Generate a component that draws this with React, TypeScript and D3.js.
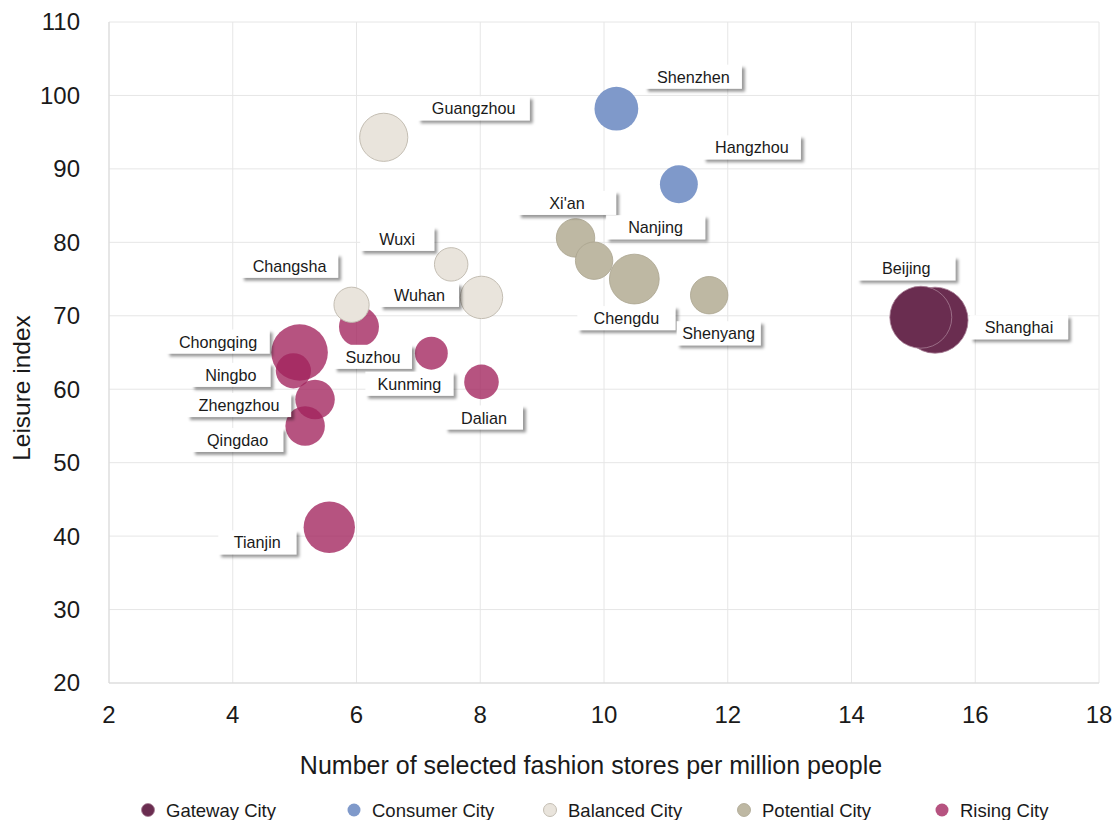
import React from 'react';
import * as d3 from 'd3';

// ---------- data ----------
const categoryNames = ['Gateway City', 'Consumer City', 'Balanced City', 'Potential City', 'Rising City'];

const cities = [
  'Shanghai', 'Beijing',
  'Shenzhen', 'Hangzhou',
  'Guangzhou', 'Wuxi', 'Wuhan', 'Changsha',
  'Xi\'an', 'Nanjing', 'Chengdu', 'Shenyang',
  'Chongqing', 'Ningbo', 'Zhengzhou', 'Qingdao', 'Suzhou', 'Kunming', 'Dalian', 'Tianjin',
];
const cityCategory = [
  'Gateway City', 'Gateway City',
  'Consumer City', 'Consumer City',
  'Balanced City', 'Balanced City', 'Balanced City', 'Balanced City',
  'Potential City', 'Potential City', 'Potential City', 'Potential City',
  'Rising City', 'Rising City', 'Rising City', 'Rising City', 'Rising City', 'Rising City', 'Rising City', 'Rising City',
];
const storesPerMillion = [
  15.35, 15.12,
  10.2, 11.21,
  6.44, 7.53, 8.02, 5.92,
  9.54, 9.84, 10.49, 11.7,
  5.08, 4.98, 5.33, 5.17, 6.04, 7.21, 8.02, 5.56,
];
const leisureIndex = [
  69.4, 69.8,
  98.2, 87.9,
  94.3, 77.0, 72.5, 71.5,
  80.6, 77.5, 75.0, 72.8,
  65.0, 62.5, 58.6, 55.0, 68.5, 64.9, 61.0, 41.2,
];
const bubbleSize = [
  109, 96,
  48, 36,
  58, 28, 45, 31,
  37, 35, 62, 35,
  80, 31, 39, 39, 40, 27, 30, 66,
];

const xTicks = [2, 4, 6, 8, 10, 12, 14, 16, 18];
const yTicks = [20, 30, 40, 50, 60, 70, 80, 90, 100, 110];

// ---------- styling / layout ----------
const W = 1118;
const H = 820;
const M = { left: 109, right: 1099, top: 22, bottom: 683 };

const catStyle: Record<string, { fill: string; stroke: string; opacity: number; strokeWidth: number }> = {
  'Gateway City': { fill: '#6a2d50', stroke: '#a77d94', opacity: 1, strokeWidth: 0.8 },
  'Consumer City': { fill: '#7f99ca', stroke: 'none', opacity: 1, strokeWidth: 0 },
  'Balanced City': { fill: '#e9e4dc', stroke: '#c4beb3', opacity: 1, strokeWidth: 1 },
  'Potential City': { fill: '#beb8a3', stroke: '#aaa38e', opacity: 1, strokeWidth: 0.8 },
  'Rising City': { fill: '#a1225c', stroke: 'none', opacity: 0.78, strokeWidth: 0 },
};
const drawOrder = ['Rising City', 'Potential City', 'Balanced City', 'Consumer City', 'Gateway City'];

// label box: offset of box centre from bubble centre (px) and box width
const labelLayout: Record<string, { dx: number; dy: number; w: number }> = {
  Beijing: { dx: -14.5, dy: -49, w: 98 },
  Shanghai: { dx: 84, dy: 7, w: 98 },
  Shenzhen: { dx: 77, dy: -32, w: 97 },
  Hangzhou: { dx: 73, dy: -37, w: 98 },
  Guangzhou: { dx: 90, dy: -29, w: 112 },
  "Xi'an": { dx: -8.5, dy: -35, w: 98 },
  Nanjing: { dx: 61.5, dy: -33.5, w: 99 },
  Chengdu: { dx: -8, dy: 39, w: 98 },
  Shenyang: { dx: 9.5, dy: 38, w: 84 },
  Wuxi: { dx: -54, dy: -25.5, w: 74 },
  Wuhan: { dx: -62, dy: -2.5, w: 79 },
  Changsha: { dx: -62, dy: -39, w: 97 },
  Suzhou: { dx: 14, dy: 30, w: 78 },
  Kunming: { dx: -22, dy: 30.5, w: 88 },
  Dalian: { dx: 2.5, dy: 35.5, w: 78 },
  Chongqing: { dx: -81.5, dy: -11, w: 103 },
  Ningbo: { dx: -62.5, dy: 4, w: 79 },
  Zhengzhou: { dx: -76, dy: 5.5, w: 104 },
  Qingdao: { dx: -67.5, dy: 14, w: 91 },
  Tianjin: { dx: -72, dy: 15, w: 78 },
};
const legendX = [148, 354, 550, 744, 942];

const FONT = '"Liberation Sans", Arial, Helvetica, sans-serif';

export default function App() {
  const x = d3.scaleLinear().domain([2, 18]).range([M.left, M.right]);
  const y = d3.scaleLinear().domain([20, 110]).range([M.bottom, M.top]);
  const r = d3.scaleSqrt().domain([0, 109]).range([0, 33]);

  const points = cities.map((c, i) => ({
    city: c,
    cat: cityCategory[i],
    cx: x(storesPerMillion[i]),
    cy: y(leisureIndex[i]),
    rad: r(bubbleSize[i]),
  }));
  const ordered = drawOrder.flatMap((cat) => points.filter((p) => p.cat === cat));

  return (
    <svg
      width={W}
      height={H}
      style={{ position: 'absolute', left: 0, top: 0, background: '#fff' }}
      fontFamily={FONT}
    >
      <defs>
        <filter id="lblShadow" x="-20%" y="-30%" width="150%" height="180%">
          <feDropShadow dx="3" dy="3" stdDeviation="1.6" floodColor="#000" floodOpacity="0.4" />
        </filter>
      </defs>
      <rect x={0} y={0} width={W} height={H} fill="#fff" />

      {/* grid */}
      <g>
        {xTicks.map((t) => (
          <line key={'gx' + t} x1={x(t)} x2={x(t)} y1={M.top} y2={M.bottom} stroke="#e6e6e6" strokeWidth={1} />
        ))}
        {yTicks.map((t) => (
          <line key={'gy' + t} x1={M.left} x2={M.right} y1={y(t)} y2={y(t)} stroke="#e6e6e6" strokeWidth={1} />
        ))}
        <line x1={M.left} x2={M.left} y1={M.top} y2={M.bottom} stroke="#d9d9d9" />
        <line x1={M.left} x2={M.right} y1={M.bottom} y2={M.bottom} stroke="#d9d9d9" />
      </g>

      {/* tick labels */}
      <g fontSize={24} fill="#1a1a1a">
        {yTicks.map((t) => (
          <text key={'ty' + t} x={M.left - 29} y={y(t)} dy="0.35em" textAnchor="end">
            {t}
          </text>
        ))}
        {xTicks.map((t) => (
          <text key={'tx' + t} x={x(t)} y={723} textAnchor="middle">
            {t}
          </text>
        ))}
      </g>

      {/* axis titles */}
      <text x={591} y={774} textAnchor="middle" fontSize={25} fill="#1a1a1a">
        Number of selected fashion stores per million people
      </text>
      <text transform={`translate(30,${388}) rotate(-90)`} textAnchor="middle" fontSize={24.5} fill="#1a1a1a">
        Leisure index
      </text>

      {/* bubbles */}
      <g>
        {ordered.map((p) => {
          const s = catStyle[p.cat];
          return (
            <circle
              key={'b' + p.city}
              cx={p.cx}
              cy={p.cy}
              r={p.rad}
              fill={s.fill}
              fillOpacity={s.opacity}
              stroke={s.stroke}
              strokeWidth={s.strokeWidth}
            />
          );
        })}
      </g>

      {/* labels */}
      <g fontSize={16.2} fill="#1a1a1a">
        {points.map((p) => {
          const L = labelLayout[p.city];
          const bx = p.cx + L.dx;
          const by = p.cy + L.dy;
          return (
            <g key={'l' + p.city}>
              <rect x={bx - L.w / 2} y={by - 12} width={L.w} height={24} fill="#fff" filter="url(#lblShadow)" />
              <text x={bx} y={by} dy="0.38em" textAnchor="middle" fill="#1a1a1a">
                {p.city}
              </text>
            </g>
          );
        })}
      </g>

      {/* legend */}
      <g fontSize={18.5} fill="#1a1a1a">
        {categoryNames.map((c, i) => {
          const s = catStyle[c];
          return (
            <g key={'lg' + c}>
              <circle
                cx={legendX[i]}
                cy={810}
                r={6.5}
                fill={s.fill}
                fillOpacity={s.opacity}
                stroke={s.stroke}
                strokeWidth={s.strokeWidth}
              />
              <text x={legendX[i] + 18} y={817}>
                {c}
              </text>
            </g>
          );
        })}
      </g>
    </svg>
  );
}
